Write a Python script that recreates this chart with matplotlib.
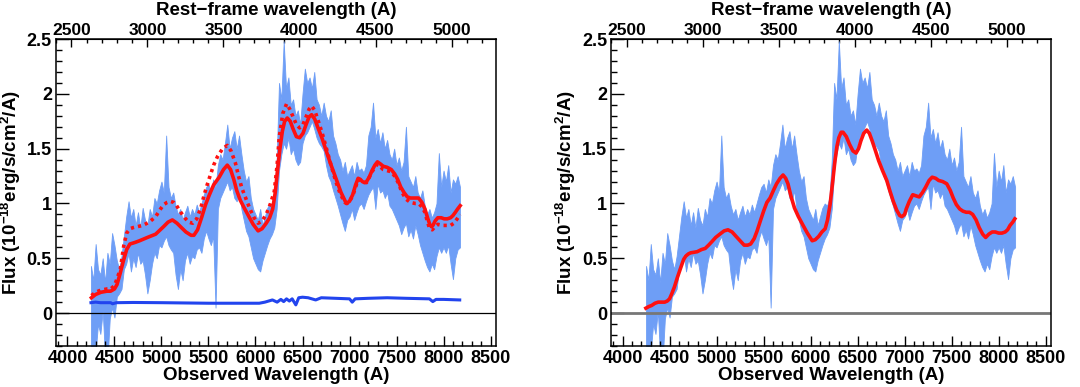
import numpy as np
import matplotlib
matplotlib.use('Agg')
import matplotlib.pyplot as plt
from matplotlib.ticker import MultipleLocator

plt.rcParams['font.family'] = ['Liberation Sans', 'DejaVu Sans']
plt.rcParams['font.weight'] = 'bold'
plt.rcParams['font.size'] = 13
plt.rcParams['mathtext.fontset'] = 'custom'
plt.rcParams['mathtext.rm'] = 'Liberation Sans:bold'
plt.rcParams['mathtext.bf'] = 'Liberation Sans:bold'
plt.rcParams['mathtext.default'] = 'bf'

Z1 = 1.617  # 1 + z

# observed spectrum band (low / high edge), 25 A sampling from 4250 to 8175
spec_wave = np.arange(4250, 8176, 25)
spec_hi = [
    0.43, 0.30, 0.63, 0.40, 0.35, 0.50, 0.28, 0.55, 0.45, 0.73,
    0.62, 0.48, 0.40, 0.52, 0.70, 0.88, 1.02, 0.87, 0.95, 0.80,
    0.92, 0.78, 0.96, 0.85, 0.80, 0.95, 0.88, 1.05, 1.00, 1.12,
    1.20, 1.10, 1.62, 1.15, 1.05, 1.10, 0.98, 0.90, 0.95, 0.85,
    0.92, 0.98, 0.88, 0.95, 0.90, 0.99, 0.92, 1.00, 1.08, 1.15,
    1.18, 1.10, 1.22, 1.15, 1.35, 1.45, 1.40, 1.55, 1.72, 1.50,
    1.60, 1.66, 1.50, 1.62, 1.45, 1.30, 1.20, 1.25, 1.05, 0.95,
    0.90, 0.85, 0.95, 0.80, 0.88, 0.96, 1.00, 0.98, 1.05, 1.40,
    2.10, 1.95, 2.48, 2.05, 2.15, 1.90, 1.95, 1.80, 1.85, 1.72,
    2.00, 2.23, 2.10, 2.15, 2.05, 2.20, 1.95, 1.90, 1.80, 1.92,
    1.80, 1.75, 1.85, 1.62, 1.55, 1.45, 1.40, 1.30, 1.38, 1.25,
    1.30, 1.35, 1.25, 1.38, 1.30, 1.32, 1.28, 1.35, 1.62, 1.70,
    1.92, 1.60, 1.68, 1.55, 1.65, 1.50, 1.58, 1.45, 1.40, 1.50,
    1.35, 1.42, 1.30, 1.38, 1.70, 1.25, 1.20, 1.15, 1.25, 1.10,
    1.05, 1.12, 0.98, 0.90, 0.95, 0.87, 0.92, 1.00, 1.46, 1.15,
    1.30, 1.20, 1.35, 1.10, 1.22, 1.18, 1.25, 1.15]
spec_lo = [
    -0.45, -0.40, -0.35, -0.10, -0.19, 0.02, -0.40, -0.45, -0.05, 0.05,
    -0.04, 0.15, 0.18, 0.22, 0.40, 0.45, 0.55, 0.38, 0.50, 0.42,
    0.55, 0.45, 0.48, 0.35, 0.18, 0.30, 0.45, 0.55, 0.50, 0.62,
    0.60, 0.66, 0.70, 0.62, 0.58, 0.55, 0.35, 0.22, 0.40, 0.30,
    0.48, 0.55, 0.45, 0.52, 0.50, 0.58, 0.60, 0.55, 0.68, 0.75,
    0.68, 0.62, 0.70, 0.05, 0.95, 1.05, 1.10, 1.15, 1.20, 1.12,
    1.15, 1.05, 1.02, 1.12, 0.95, 0.85, 0.75, 0.70, 0.60, 0.50,
    0.45, 0.40, 0.38, 0.48, 0.55, 0.62, 0.68, 0.72, 0.78, 0.95,
    1.30, 1.45, 1.55, 1.50, 1.60, 1.45, 1.50, 1.40, 1.35, 1.38,
    1.55, 1.62, 1.65, 1.70, 1.75, 1.68, 1.60, 1.55, 1.52, 1.48,
    1.35, 1.25, 1.20, 1.12, 1.05, 0.98, 0.90, 0.82, 0.75, 0.85,
    0.88, 0.95, 0.85, 0.92, 0.98, 1.00, 0.95, 1.02, 1.08, 1.12,
    1.15, 0.95, 1.18, 1.10, 1.12, 1.05, 1.10, 0.98, 0.95, 0.90,
    0.85, 0.80, 0.72, 0.78, 0.82, 0.70, 0.76, 0.68, 0.80, 0.72,
    0.62, 0.55, 0.48, 0.42, 0.38, 0.45, 0.40, 0.52, 0.60, 0.55,
    0.60, 0.55, 0.62, 0.45, 0.31, 0.50, 0.58, 0.60]

# error spectrum (left panel)
err_wave = [4250, 4300, 4350, 4400, 4460, 4480, 4520, 4700, 5000, 5500, 5800, 6040,
            6100, 6180, 6230, 6270, 6300, 6330, 6360, 6390, 6429, 6460, 6500, 6560,
            6600, 6640, 6700, 7000, 7029, 7060, 7200, 7400, 7600, 7850, 7886, 7920,
            8000, 8172]
err_flux = [0.095, 0.10, 0.095, 0.095, 0.095, 0.085, 0.095, 0.097, 0.095, 0.09, 0.09, 0.09,
            0.10, 0.12, 0.10, 0.125, 0.105, 0.13, 0.11, 0.13, 0.075, 0.14, 0.145, 0.14,
            0.13, 0.12, 0.14, 0.13, 0.10, 0.13, 0.135, 0.14, 0.135, 0.13, 0.105, 0.125,
            0.125, 0.12]

# best-fit template, left panel (solid)
fitL_wave = [4255, 4300, 4356, 4420, 4459, 4500, 4527, 4560, 4596, 4630, 4664, 4720,
             4767, 4850, 4938, 5024, 5070, 5116, 5165, 5212, 5260, 5315, 5345, 5384,
             5430, 5469, 5510, 5555, 5614, 5660, 5700, 5735, 5769, 5800, 5838, 5880,
             5924, 5975, 6028, 6070, 6114, 6150, 6183, 6210, 6234, 6260, 6286, 6310,
             6338, 6370, 6400, 6435, 6469, 6505, 6538, 6570, 6597, 6630, 6665, 6710,
             6752, 6800, 6855, 6910, 6966, 7000, 7034, 7065, 7092, 7115, 7137, 7160,
             7181, 7210, 7239, 7270, 7297, 7330, 7358, 7400, 7444, 7480, 7512, 7545,
             7580, 7615, 7648, 7690, 7734, 7770, 7802, 7830, 7853, 7870, 7887, 7910,
             7939, 7975, 8007, 8040, 8075, 8100, 8126, 8150, 8177]
fitL_flux = [0.14, 0.17, 0.19, 0.20, 0.20, 0.22, 0.26, 0.36, 0.48, 0.58, 0.63, 0.645,
             0.66, 0.69, 0.72, 0.79, 0.83, 0.85, 0.82, 0.78, 0.74, 0.71, 0.71, 0.76,
             0.88, 0.99, 1.08, 1.17, 1.24, 1.31, 1.35, 1.31, 1.22, 1.12, 1.03, 0.96,
             0.89, 0.81, 0.75, 0.77, 0.82, 0.87, 0.95, 1.10, 1.30, 1.50, 1.66, 1.75,
             1.78, 1.75, 1.68, 1.61, 1.60, 1.64, 1.72, 1.79, 1.81, 1.77, 1.69, 1.59,
             1.48, 1.36, 1.23, 1.10, 1.00, 1.02, 1.08, 1.17, 1.23, 1.22, 1.20, 1.19,
             1.20, 1.24, 1.30, 1.35, 1.38, 1.36, 1.34, 1.33, 1.31, 1.27, 1.22, 1.15,
             1.10, 1.06, 1.05, 1.05, 1.05, 1.01, 0.95, 0.87, 0.81, 0.79, 0.80, 0.84,
             0.87, 0.87, 0.86, 0.86, 0.87, 0.89, 0.92, 0.95, 0.98]

# alternative template, left panel (dotted)
altL_wave = [4255, 4300, 4356, 4420, 4459, 4500, 4530, 4562, 4600, 4630, 4665, 4699,
             4750, 4801, 4870, 4938, 4990, 5024, 5060, 5093, 5130, 5161, 5205, 5247,
             5290, 5332, 5375, 5418, 5455, 5486, 5520, 5555, 5597, 5650, 5700, 5740,
             5786, 5820, 5855, 5900, 5941, 5985, 6028, 6070, 6114, 6160, 6200, 6230,
             6252, 6290, 6331, 6365, 6400, 6435, 6469, 6505, 6538, 6570, 6597, 6630,
             6665, 6710, 6752, 6800, 6855, 6900, 6950, 6975, 7000, 7034, 7065, 7092,
             7137, 7181, 7239, 7297, 7358, 7400, 7444, 7480, 7512, 7560, 7600, 7648,
             7700, 7734, 7770, 7802, 7830, 7853, 7880, 7910, 7939, 7990, 8040, 8075,
             8110, 8145, 8177]
altL_flux = [0.16, 0.19, 0.21, 0.22, 0.22, 0.25, 0.32, 0.40, 0.62, 0.73, 0.77, 0.78,
             0.79, 0.80, 0.83, 0.88, 0.95, 0.99, 1.01, 1.02, 1.01, 0.98, 0.92, 0.87,
             0.83, 0.82, 0.86, 0.96, 1.08, 1.17, 1.26, 1.35, 1.43, 1.50, 1.53, 1.48,
             1.37, 1.25, 1.14, 1.04, 0.95, 0.87, 0.82, 0.84, 0.90, 1.00, 1.11, 1.35,
             1.60, 1.82, 1.91, 1.86, 1.79, 1.72, 1.69, 1.72, 1.79, 1.86, 1.89, 1.85,
             1.76, 1.64, 1.51, 1.36, 1.20, 1.09, 1.01, 1.00, 1.02, 1.07, 1.15, 1.22,
             1.20, 1.19, 1.29, 1.36, 1.31, 1.30, 1.29, 1.25, 1.20, 1.10, 1.04, 1.01,
             1.00, 1.00, 0.97, 0.92, 0.83, 0.77, 0.76, 0.79, 0.81, 0.80, 0.80, 0.80,
             0.82, 0.86, 0.90]

# best-fit template, right panel
fitR_wave = [4248, 4280, 4310, 4345, 4379, 4420, 4448, 4475, 4500, 4525, 4552, 4585,
             4621, 4650, 4672, 4700, 4724, 4760, 4793, 4840, 4879, 4915, 4948, 4990,
             5034, 5080, 5121, 5165, 5207, 5250, 5293, 5330, 5362, 5400, 5431, 5465,
             5500, 5535, 5569, 5605, 5638, 5675, 5707, 5735, 5759, 5790, 5828, 5870,
             5914, 5965, 6017, 6050, 6086, 6120, 6155, 6180, 6207, 6235, 6259, 6280,
             6300, 6325, 6345, 6380, 6414, 6450, 6483, 6510, 6534, 6565, 6597, 6625,
             6655, 6690, 6724, 6765, 6810, 6845, 6879, 6915, 6948, 6970, 7000, 7017,
             7050, 7086, 7120, 7155, 7190, 7224, 7260, 7293, 7330, 7362, 7405, 7448,
             7485, 7517, 7550, 7586, 7620, 7655, 7690, 7724, 7760, 7793, 7830, 7862,
             7895, 7931, 7965, 8000, 8035, 8069, 8095, 8121, 8150, 8172]
fitR_flux = [0.045, 0.06, 0.07, 0.09, 0.10, 0.10, 0.10, 0.11, 0.13, 0.18, 0.24, 0.33,
             0.42, 0.49, 0.52, 0.54, 0.55, 0.555, 0.56, 0.58, 0.59, 0.62, 0.65, 0.69,
             0.72, 0.75, 0.76, 0.74, 0.70, 0.66, 0.62, 0.62, 0.63, 0.68, 0.75, 0.84,
             0.93, 1.01, 1.05, 1.12, 1.18, 1.23, 1.26, 1.23, 1.18, 1.07, 0.96, 0.88,
             0.81, 0.73, 0.66, 0.67, 0.70, 0.74, 0.77, 0.85, 0.99, 1.20, 1.39, 1.52,
             1.60, 1.65, 1.65, 1.61, 1.54, 1.48, 1.46, 1.50, 1.57, 1.64, 1.67, 1.64,
             1.57, 1.48, 1.39, 1.30, 1.21, 1.11, 1.02, 0.94, 0.89, 0.88, 0.90, 0.95,
             1.02, 1.08, 1.07, 1.06, 1.10, 1.15, 1.21, 1.24, 1.23, 1.21, 1.20, 1.18,
             1.12, 1.05, 0.99, 0.95, 0.93, 0.92, 0.92, 0.90, 0.85, 0.78, 0.72, 0.69,
             0.72, 0.74, 0.74, 0.73, 0.73, 0.74, 0.76, 0.80, 0.83, 0.86]

BLUE_FILL = '#6e9ef6'
RED = '#ff1010'
FIG_H = 387.0


def style_axes(ax):
    ax.set_xlim(3880, 8555)
    ax.set_ylim(-0.3, 2.5)
    ax.xaxis.set_major_locator(MultipleLocator(500))
    ax.xaxis.set_minor_locator(MultipleLocator(100))
    ax.yaxis.set_minor_locator(MultipleLocator(0.1))
    ax.set_yticks([0, 0.5, 1, 1.5, 2, 2.5])
    ax.set_yticklabels(['0', '0.5', '1', '1.5', '2', '2.5'])
    ax.tick_params(axis='x', which='major', direction='in', length=7.5, width=1,
                   top=False, bottom=True, pad=3, labelsize=13)
    ax.tick_params(axis='x', which='minor', direction='in', length=3.8, width=1,
                   top=False, bottom=True)
    ax.tick_params(axis='y', which='major', direction='in', length=9, width=1,
                   left=True, right=False, pad=3, labelsize=13)
    ax.tick_params(axis='y', which='minor', direction='in', length=4.5, width=1,
                   left=True, right=False)
    for s in ax.spines.values():
        s.set_linewidth(1.1)
    ax.set_xlabel('Observed Wavelength (A)', fontsize=13.5, fontweight='bold')
    ax.xaxis.set_label_coords(0.5, -0.068)
    ax.set_ylabel(r'Flux (10$^{-18}$erg/s/cm$^{2}$/A)', fontsize=13.5, fontweight='bold')
    ax.yaxis.set_label_coords(-0.075, 0.5)

    sec = ax.secondary_xaxis('top', functions=(lambda x: x / Z1, lambda x: x * Z1))
    sec.set_xticks(np.arange(2500, 5001, 500))
    sec.xaxis.set_minor_locator(MultipleLocator(100))
    sec.tick_params(axis='x', which='major', direction='in', length=6, width=1,
                    pad=1, labelsize=12.5)
    sec.tick_params(axis='x', which='minor', direction='in', length=3, width=1)

    # title of the rest-frame axis, placed just under the top edge
    pos = ax.get_position()
    fig.text(pos.x0 + pos.width / 2, 1 - 15 / FIG_H, 'Rest\u2212frame wavelength (A)',
             ha='center', va='baseline', fontsize=13.5, fontweight='bold')


fig = plt.figure(figsize=(10.8, 3.87), dpi=100)

# ---- left panel ----
ax1 = fig.add_axes([0.052, 0.106, 0.407, 0.793])
ax1.fill_between(spec_wave, spec_lo, spec_hi, color=BLUE_FILL, lw=0.6, zorder=1)
ax1.axhline(0, color='black', lw=0.9, zorder=2)
ax1.plot(err_wave, err_flux, color='#2244ee', lw=2.2, zorder=3)
ax1.plot(altL_wave, altL_flux, color=RED, lw=2.6, linestyle=(0, (0.9, 1.1)), zorder=4)
ax1.plot(fitL_wave, fitL_flux, color=RED, lw=2.6, solid_joinstyle='round', zorder=5)
style_axes(ax1)

# ---- right panel ----
ax2 = fig.add_axes([0.566, 0.106, 0.407, 0.793])
ax2.fill_between(spec_wave, spec_lo, spec_hi, color=BLUE_FILL, lw=0.6, zorder=1)
ax2.axhline(0, color='#777777', lw=2.0, zorder=2)
ax2.plot(fitR_wave, fitR_flux, color=RED, lw=2.6, solid_joinstyle='round', zorder=5)
style_axes(ax2)

fig.savefig('out.png', dpi=100)
